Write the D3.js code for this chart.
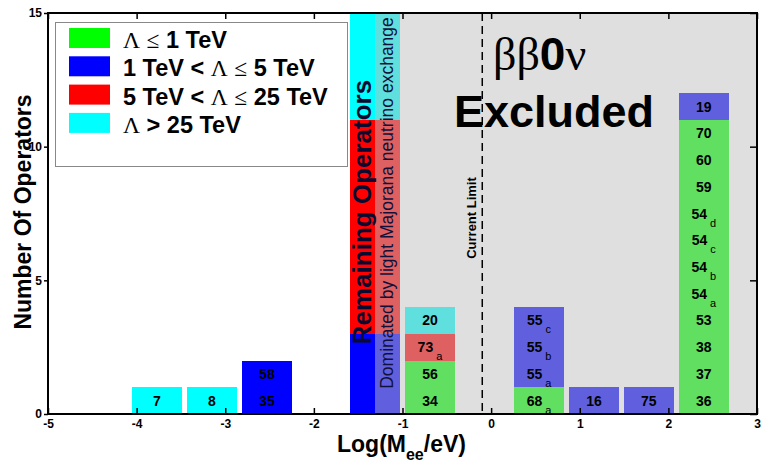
<!DOCTYPE html>
<head>
  <meta charset="utf-8">
  <script src="https://d3js.org/d3.v7.min.js"></script>
  <style>
    body { margin:0; background:#fff; }
    text { font-family: "Liberation Sans", Arial, sans-serif; }
  </style>
</head>
<body>
<script>
  // scale classes (legend)
  var classNames = ["\u039b \u2264 1 TeV", "1 TeV < \u039b \u2264 5 TeV", "5 TeV < \u039b \u2264 25 TeV", "\u039b > 25 TeV"];
  var classColors = ["#00ff00", "#0000ff", "#ff0000", "#00ffff"];

  // histogram bins: centre in Log(Mee/eV), operators stacked bottom -> top
  var binCenters = [-3.77, -3.15, -2.53, -0.69, 0.54, 1.16, 1.78, 2.40];
  var binOperators = [
    ["7"],
    ["8"],
    ["35", "58"],
    ["34", "56", "73_a", "20"],
    ["68_a", "55_a", "55_b", "55_c"],
    ["16"],
    ["75"],
    ["36", "37", "38", "53", "54_a", "54_b", "54_c", "54_d", "59", "60", "70", "19"]
  ];
  var binClasses = [
    [3],
    [3],
    [1, 1],
    [0, 0, 2, 3],
    [0, 1, 1, 1],
    [1],
    [1],
    [0, 0, 0, 0, 0, 0, 0, 0, 0, 0, 0, 1]
  ];

  // "remaining operators" bin (counts per class, clipped at top of plot)
  var remainingCenter = -1.31;
  var remainingCounts = [0, 3, 8, 4];

  var currentLimit = -0.1;
  var xTicks = [-5, -4, -3, -2, -1, 0, 1, 2, 3];
  var yTicks = [0, 5, 10, 15];

  var width = 761, height = 464;
  var margin = {top: 13, right: 4, bottom: 50, left: 48};
  var binWidth = 0.56;

  var svg = d3.select("body").append("svg")
    .attr("width", width)
    .attr("height", height);

  var xScale = d3.scaleLinear().domain([-5, 3]).range([margin.left, width - margin.right]);
  var yScale = d3.scaleLinear().domain([0, 15]).range([height - margin.bottom, margin.top]);

  //build segments
  var segs = [];
  binCenters.forEach(function(c, i){
    binOperators[i].forEach(function(op, j){
      var p = op.split("_");
      segs.push({c: c, y0: j, y1: j + 1, cls: binClasses[i][j], main: p[0], sub: p[1] || ""});
    });
  });
  var remSegs = [];
  var acc = 0;
  remainingCounts.forEach(function(n, k){
    if(n > 0){ remSegs.push({c: remainingCenter, y0: acc, y1: acc + n, cls: k}); }
    acc += n;
  });

  var bars = svg.append("g").attr("shape-rendering", "crispEdges");
  bars.selectAll("rect.seg")
    .data(segs.concat(remSegs))
    .enter().append("rect")
    .attr("class", "seg")
    .attr("x", function(d){ return Math.round(xScale(d.c - binWidth / 2)); })
    .attr("width", function(d){ return Math.round(xScale(d.c + binWidth / 2)) - Math.round(xScale(d.c - binWidth / 2)); })
    .attr("y", function(d){ return Math.round(yScale(d.y1)); })
    .attr("height", function(d){ return Math.round(yScale(d.y0)) - Math.round(yScale(d.y1)); })
    .attr("fill", function(d){ return classColors[d.cls]; });

  // excluded region overlay
  svg.append("rect")
    .attr("shape-rendering", "crispEdges")
    .attr("x", Math.round(xScale(remainingCenter)))
    .attr("y", yScale(15))
    .attr("width", xScale(3) - Math.round(xScale(remainingCenter)))
    .attr("height", yScale(0) - yScale(15))
    .attr("fill", "#c0c0c0")
    .attr("fill-opacity", 0.5);

  // current limit
  svg.append("line")
    .attr("x1", xScale(currentLimit)).attr("x2", xScale(currentLimit))
    .attr("y1", yScale(15)).attr("y2", yScale(0))
    .attr("stroke", "#000")
    .attr("stroke-width", 1.5)
    .attr("stroke-dasharray", "8,5");
  svg.append("text")
    .attr("transform", "translate(" + (xScale(currentLimit) - 6) + "," + 218 + ") rotate(-90)")
    .attr("text-anchor", "middle")
    .style("font-size", "13px")
    .style("font-weight", "bold")
    .text("Current Limit");

  // operator labels
  segs.forEach(function(d){
    var t = svg.append("text")
      .attr("x", xScale(d.c))
      .attr("y", (yScale(d.y0) + yScale(d.y1)) / 2 + 5)
      .attr("text-anchor", "middle")
      .style("font-size", "14px")
      .style("font-weight", "bold")
      .attr("fill", "#000");
    t.append("tspan").text(d.main);
    if(d.sub){
      t.append("tspan").attr("dx", 3).attr("dy", 8)
        .style("font-size", "11px").style("font-weight", "normal")
        .text(d.sub);
    }
  });

  // remaining operators bin texts
  svg.append("text")
    .attr("transform", "translate(" + (xScale(remainingCenter) - 4) + "," + 212 + ") rotate(-90)")
    .attr("text-anchor", "middle")
    .style("font-size", "26px")
    .style("font-weight", "bold")
    .attr("fill", "#0a0a30")
    .text("Remaining Operators");
  svg.append("text")
    .attr("transform", "translate(" + (xScale(remainingCenter) + 18) + "," + 203 + ") rotate(-90)")
    .attr("text-anchor", "middle")
    .style("font-size", "17.5px")
    .attr("fill", "#10103a")
    .text("Dominated by light Majorana neutrino exchange");

  // big label
  var bb = svg.append("text").attr("x", 493).attr("y", 70).style("font-size", "46px");
  bb.append("tspan").style("font-family", "'Liberation Serif', 'Times New Roman', serif").text("\u03b2\u03b2");
  bb.append("tspan").style("font-weight", "bold").text("0");
  bb.append("tspan").style("font-family", "'Liberation Serif', 'Times New Roman', serif").text("\u03bd");
  svg.append("text").attr("x", 554).attr("y", 127)
    .attr("text-anchor", "middle")
    .style("font-size", "45px").style("font-weight", "bold")
    .text("Excluded");

  //Build axes
  var xAxis = d3.axisBottom(xScale).tickValues(xTicks).tickSize(-6).tickPadding(5)
    .tickFormat(function(d){ return String(d); });
  var xTop = d3.axisBottom(xScale).tickValues(xTicks).tickSize(6).tickFormat("");
  var yAxis = d3.axisLeft(yScale).tickValues(yTicks).tickSize(4).tickPadding(2)
    .tickFormat(function(d){ return String(d); });
  var yRight = d3.axisLeft(yScale).tickValues(yTicks).tickSize(7).tickFormat("");

  function styleAxis(g){
    g.select(".domain").remove();
    g.selectAll(".tick line").attr("stroke", "#000").attr("stroke-width", 1.5);
    g.selectAll(".tick text").style("font-size", "12px").style("font-weight", "bold")
      .style("font-family", "'Liberation Sans', Arial, sans-serif").attr("fill", "#000");
  }
  svg.append("g").attr("transform", "translate(0," + yScale(0) + ")").call(xAxis).call(styleAxis);
  svg.append("g").attr("transform", "translate(0," + yScale(15) + ")").call(xTop).call(styleAxis);
  svg.append("g").attr("transform", "translate(" + xScale(-5) + ",0)").call(yAxis).call(styleAxis);
  svg.append("g").attr("transform", "translate(" + xScale(3) + ",0)").call(yRight).call(styleAxis);

  // frame
  svg.append("rect")
    .attr("x", xScale(-5)).attr("y", yScale(15))
    .attr("width", xScale(3) - xScale(-5))
    .attr("height", yScale(0) - yScale(15))
    .attr("fill", "none")
    .attr("stroke", "#000")
    .attr("stroke-width", 2);

  // axis titles
  var xt = svg.append("text").attr("x", 337).attr("y", 452)
    .style("font-size", "23px").style("font-weight", "bold");
  xt.append("tspan").text("Log(M");
  xt.append("tspan").attr("dy", 8).style("font-size", "16px").text("ee");
  xt.append("tspan").attr("dy", -8).text("/eV)");
  svg.append("text")
    .attr("transform", "translate(31," + 212 + ") rotate(-90)")
    .attr("text-anchor", "middle")
    .style("font-size", "23px").style("font-weight", "bold")
    .text("Number Of Operators");

  // legend
  var legend = svg.append("g");
  legend.append("rect")
    .attr("x", 55.5).attr("y", 22.5).attr("width", 292).attr("height", 144)
    .attr("fill", "#fff").attr("stroke", "#888").attr("stroke-width", 1);
  classNames.forEach(function(name, i){
    var yy = 28 + i * 28.3;
    legend.append("rect")
      .attr("x", 69).attr("y", yy).attr("width", 41).attr("height", 20)
      .attr("fill", classColors[i]);
    var t = legend.append("text").attr("x", 123).attr("y", yy + 20)
      .style("font-size", "23.5px").style("font-weight", "bold");
    name.split(/([\u039b\u2264])/).forEach(function(part){
      if(!part) return;
      var sp = t.append("tspan").text(part);
      if(part === "\u039b" || part === "\u2264"){
        sp.style("font-family", "'Liberation Serif', 'Times New Roman', serif").style("font-weight", "normal");
      }
    });
  });
</script>
</body>
